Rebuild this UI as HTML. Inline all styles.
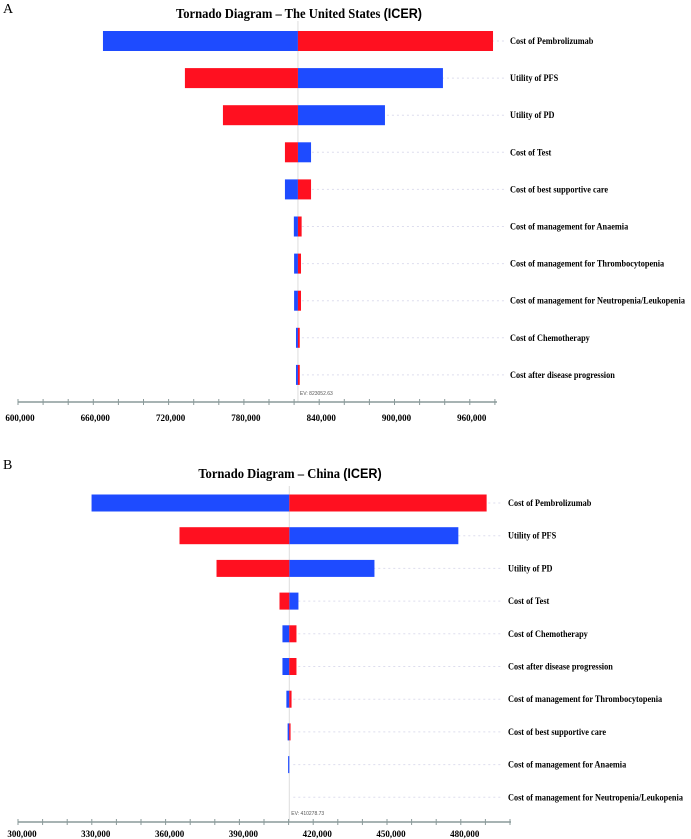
<!DOCTYPE html>
<html><head><meta charset="utf-8"><style>
html,body{margin:0;padding:0;background:#fff;}
svg{display:block;}
.t{font-family:"Liberation Serif",serif;font-weight:bold;}
</style></head><body>
<svg id="svg" width="691" height="839" viewBox="0 0 691 839" xmlns="http://www.w3.org/2000/svg">
<text x="3" y="13" font-family="Liberation Serif,serif" font-size="14">A</text>
<text x="299" y="18" text-anchor="middle" class="t" font-size="14" transform="translate(299,0) scale(0.9,1) translate(-299,0)">Tornado Diagram – The United States <tspan font-family="Liberation Sans,sans-serif">(ICER)</tspan></text>
<text x="3" y="469" font-family="Liberation Serif,serif" font-size="14">B</text>
<text x="290" y="478" text-anchor="middle" class="t" font-size="14" transform="translate(290,0) scale(0.9,1) translate(-290,0)">Tornado Diagram – China <tspan font-family="Liberation Sans,sans-serif">(ICER)</tspan></text>
<g id="chartA"></g>
<g id="chartB"></g>
</svg>
<script>
// Chart A (United States)
const catsA = ["Cost of Pembrolizumab","Utility of PFS","Utility of PD","Cost of Test","Cost of best supportive care","Cost of management for Anaemia","Cost of management for Thrombocytopenia","Cost of management for Neutropenia/Leukopenia","Cost of Chemotherapy","Cost after disease progression"];
const blueA = [667700, 938600, 892400, 833500, 812700, 819800, 820000, 820000, 821500, 821500];
const redA  = [978500, 733000, 763300, 812700, 833500, 826000, 825500, 825500, 824500, 824500];
const evA = 823052.63;
const ticksA = [600000,660000,720000,780000,840000,900000,960000];
// Chart B (China)
const catsB = ["Cost of Pembrolizumab","Utility of PFS","Utility of PD","Cost of Test","Cost of Chemotherapy","Cost after disease progression","Cost of management for Thrombocytopenia","Cost of best supportive care","Cost of management for Anaemia","Cost of management for Neutropenia/Leukopenia"];
const blueB = [329900, 479000, 444900, 414000, 407500, 407500, 409100, 409600, 409800, 410278];
const redB  = [490500, 365650, 380700, 406300, 413200, 413200, 411200, 410800, 410278, 410278];
const evB = 410278.73;
const ticksB = [300000,330000,360000,390000,420000,450000,480000];

const NS="http://www.w3.org/2000/svg";
function mk(tag,attrs,parent){const e=document.createElementNS(NS,tag);for(const k in attrs)e.setAttribute(k,attrs[k]);parent.appendChild(e);return e;}
function fmt(v){return v.toLocaleString('en-US');}

function draw(g,cats,blue,red,ev,ticks,o){
  const x=v=>o.x0+(v-o.vmin)*o.pxPer/o.step;
  const cx=x(ev);
  const gl=mk('line',{x1:cx,x2:cx,y1:o.rowY0-o.bh,y2:o.axisY,stroke:'#ddd','stroke-width':1},g);
  
  
  cats.forEach((c,i)=>{
    const y=o.rowY0+i*o.rowH;
    const dl=mk('line',{x1:cx+4,x2:o.labelX-6,y1:y,y2:y,stroke:'#dde','stroke-width':1,'stroke-dasharray':'2,3'},g);
    
    
    [[blue[i],'#1e4bff','blue'],[red[i],'#ff1020','red']].forEach(([v,col,nm])=>{
      const xv=x(v);const l=Math.min(xv,cx),w=Math.abs(xv-cx);
      if(w<0.3)return;
      const r=mk('rect',{x:l,y:y-o.bh/2,width:Math.max(w,1.2),height:o.bh,fill:col},g);
      
      
    });
    const t=mk('text',{x:o.labelX,y:y+3,'font-size':9,class:'t',transform:`translate(${o.labelX},0) scale(0.92,1) translate(${-o.labelX},0)`},g);
    t.textContent=c;
    
    
  });
  const ax=mk('line',{x1:o.x0,x2:o.x1,y1:o.axisY,y2:o.axisY,stroke:'#8a9a9a','stroke-width':1.5},g);
  
  
  for(let v=o.vmin;v<=o.vmax+1;v+=o.step){
    const tk=mk('line',{x1:x(v),x2:x(v),y1:o.axisY-3,y2:o.axisY+3,stroke:'#8a9a9a','stroke-width':1},g);
    
    
  }
  ticks.forEach(v=>{
    const t=mk('text',{x:x(v)+o.lblShift,y:o.axisY+o.lblDy,'text-anchor':'middle','font-size':9,class:'t'},g);
    t.textContent=fmt(v);
    
    
  });
  const e=mk('text',{x:cx+2,y:o.axisY-7,'font-size':5,fill:'#555','font-family':'Liberation Sans,sans-serif'},g);
  e.textContent='EV: '+ev.toFixed(2);
  
  
}
draw(document.getElementById('chartA'),catsA,blueA,redA,evA,ticksA,
  {x0:18,x1:497,vmin:600000,vmax:980000,step:20000,pxPer:25.1,rowY0:41,rowH:37.1,bh:20,axisY:402,labelX:510,lblDy:19,lblShift:2});
draw(document.getElementById('chartB'),catsB,blueB,redB,evB,ticksB,
  {x0:18,x1:511,vmin:300000,vmax:500000,step:10000,pxPer:24.6,rowY0:503,rowH:32.7,bh:17,axisY:822,labelX:508,lblDy:15,lblShift:4});
</script>
</body></html>
